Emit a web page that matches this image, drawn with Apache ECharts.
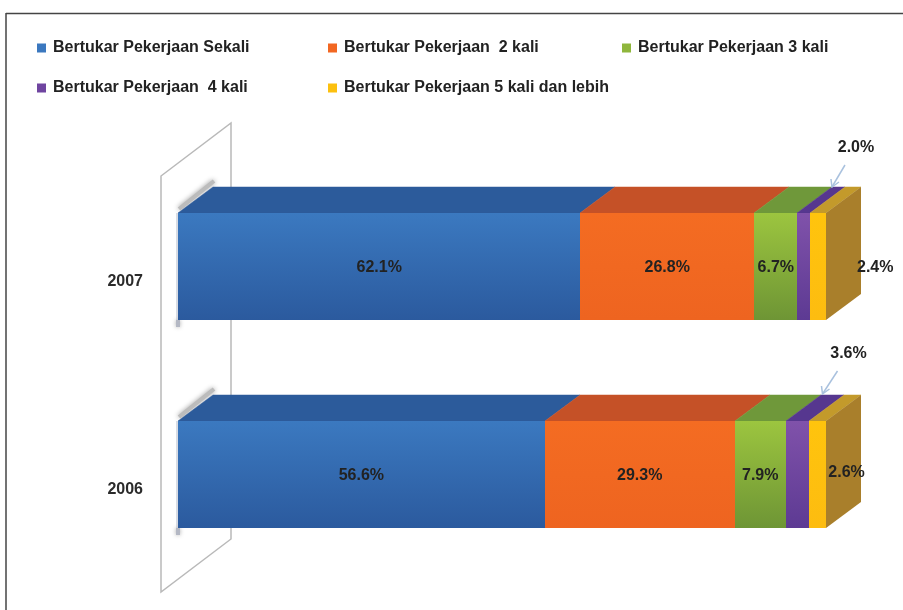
<!DOCTYPE html>
<html>
<head>
<meta charset="utf-8">
<style>html,body{margin:0;padding:0;background:#fff}#c{width:903px;height:610px}</style>
<script src="https://cdn.jsdelivr.net/npm/echarts@6/dist/echarts.min.js"></script>
</head>
<body>
<div id="c"></div>
<script>
// ---- data ----
const categories = ['2006', '2007'];
const seriesNames = ['Bertukar Pekerjaan Sekali', 'Bertukar Pekerjaan  2 kali', 'Bertukar Pekerjaan 3 kali', 'Bertukar Pekerjaan  4 kali', 'Bertukar Pekerjaan 5 kali dan lebih'];
const sekali = [56.6, 62.1];
const duaKali = [29.3, 26.8];
const tigaKali = [7.9, 6.7];
const empatKali = [3.6, 2.0];
const limaKali = [2.6, 2.4];
const allValues = [sekali, duaKali, tigaKali, empatKali, limaKali];

// ---- styles ----
const FONT = '"Liberation Sans", Arial, sans-serif';
const DX = 35, DY = -26;
function vg(a, b) { return { type: 'linear', x: 0, y: 0, x2: 0, y2: 1, colorStops: [{ offset: 0, color: a }, { offset: 1, color: b }] }; }
const styles = [
  { legend: '#3b78bf', front: vg('#3b79c0', '#2b5a9e'), top: '#2c5b9b' },
  { legend: '#f26722', front: vg('#f46c22', '#ee6420'), top: '#c55127' },
  { legend: '#8fb63c', front: vg('#9cc53f', '#6e9535'), top: '#6f983a' },
  { legend: '#6f45a0', front: vg('#8052aa', '#5d3a93'), top: '#56378f' },
  { legend: '#fcc00f', front: vg('#ffc40d', '#fdbc10'), top: '#c39a2b', side: '#a97f2b' }
];
const legendPos = [[32, 35], [323, 35], [617, 35], [32, 75], [323, 75]];
// label offset from the segment's centre, by [series][category]
const labelOffset = {
  4: { 0: [29, -2], 1: [57, 1] }
};
// labels above the bar with a leader: [text dx, text dy, leader start dx,dy, leader end dx,dy] from the segment's front top centre
const calloutOffset = {
  3: { 0: [51, -67, 40, -50, 25, -27], 1: [52, -65, 41, -48, 28, -26] }
};

function segData(i) {
  return categories.map((c, k) => {
    let start = 0;
    for (let j = 0; j < i; j++) start += allValues[j][k];
    return [k, start, start + allValues[i][k], allValues[i][k]];
  });
}

function renderSeg(i) {
  return function (params, api) {
    const k = api.value(0);
    const p0 = api.coord([api.value(1), k]);
    const p1 = api.coord([api.value(2), k]);
    const h = api.size([0, 1])[1] * 0.5144;
    const x0 = Math.round(p0[0]), x1 = Math.round(p1[0]), yT = p0[1] - h / 2, yB = p0[1] + h / 2, yC = p0[1];
    const st = styles[i];
    const kids = [];
    if (i === 0) {
      // soft shadow on the wall behind the bar
      kids.push({ type: 'polyline', shape: { points: [[x0 + 1, yT - 4], [x0 + DX + 1, yT + DY - 6]] },
        style: { stroke: '#bcbcbc', lineWidth: 4, fill: null, shadowBlur: 5, shadowColor: '#999' } });
      kids.push({ type: 'line', shape: { x1: x0 - 1, y1: yT, x2: x0 - 1, y2: yB },
        style: { stroke: '#d8dce4', lineWidth: 2 } });
      kids.push({ type: 'line', shape: { x1: x0, y1: yB, x2: x0, y2: yB + 7 },
        style: { stroke: '#b4b8c4', lineWidth: 4, shadowBlur: 4, shadowColor: '#aaa' } });
    }
    kids.push({ type: 'polygon', shape: { points: [[x0, yT], [x1, yT], [x1 + DX, yT + DY], [x0 + DX, yT + DY]] },
      style: { fill: st.top, stroke: st.top, lineWidth: 0.5 } });
    kids.push({ type: 'rect', shape: { x: x0, y: yT, width: x1 - x0, height: yB - yT }, style: { fill: st.front } });
    if (st.side) {
      kids.push({ type: 'polygon', shape: { points: [[x1, yT], [x1 + DX, yT + DY], [x1 + DX, yB + DY], [x1, yB]] }, style: { fill: st.side } });
    }
    const val = api.value(3).toFixed(1) + '%';
    const labelStyle = { text: val, font: 'bold 16px ' + FONT, fill: '#222', align: 'center', verticalAlign: 'middle' };
    const c = calloutOffset[i] && calloutOffset[i][k];
    const cx = (p0[0] + p1[0]) / 2;
    if (c) {
      const ex = cx + c[4], ey = yT + c[5], sx = cx + c[2], sy = yT + c[3];
      kids.push({ type: 'line', shape: { x1: sx, y1: sy, x2: ex, y2: ey }, style: { stroke: '#a9c1de', lineWidth: 1.5 } });
      kids.push({ type: 'polyline', shape: { points: [[ex - 1, ey - 8], [ex, ey], [ex + 7, ey - 5]] }, style: { stroke: '#a9c1de', lineWidth: 1.5, fill: null } });
      kids.push({ type: 'text', style: Object.assign({ x: cx + c[0], y: yT + c[1] }, labelStyle) });
    } else {
      const o = (labelOffset[i] && labelOffset[i][k]) || [0, 1];
      kids.push({ type: 'text', z2: 100, style: Object.assign({ x: cx + o[0], y: yC + o[1] }, labelStyle) });
    }
    return { type: 'group', children: kids };
  };
}

function renderWall(params) {
  const cs = params.coordSys;
  const x = cs.x - 17, w = 70, dy = -53, t = cs.y + 13.5, b = cs.y + cs.height + 13.5;
  return { type: 'polygon', shape: { points: [[x, t], [x + w, t + dy], [x + w, b + dy], [x, b]] },
    style: { fill: '#fff', stroke: '#b9b9b9', lineWidth: 1.5 } };
}

const series = [{
  type: 'custom', name: 'wall', silent: true, data: [[0]], renderItem: renderWall, z: 1, encode: { x: 0 }
}].concat(seriesNames.map((n, i) => ({
  type: 'custom', name: n, silent: true, z: 2 + i,
  itemStyle: { color: styles[i].legend },
  data: segData(i), encode: { x: [1, 2], y: 0 },
  renderItem: renderSeg(i)
})));

const legends = seriesNames.map((n, i) => ({
  data: [n], left: legendPos[i][0], top: legendPos[i][1], icon: 'rect', itemWidth: 9, itemHeight: 9, itemGap: 7,
  selectedMode: false, textStyle: { fontFamily: FONT, fontWeight: 'bold', fontSize: 16, color: '#222', padding: [0, 0, 0, 2] }
}));

const chart = echarts.init(document.getElementById('c'), null, { renderer: 'canvas' });
chart.setOption({
  animation: false,
  backgroundColor: '#fff',
  legend: legends,
  grid: { left: 178, width: 648, top: 162.5, height: 416 },
  xAxis: { type: 'value', min: 0, max: 100, show: false },
  yAxis: {
    type: 'category', data: categories,
    axisLine: { show: false }, axisTick: { show: false }, splitLine: { show: false },
    axisLabel: { margin: 35, color: '#2b2b2b', fontFamily: FONT, fontWeight: 'bold', fontSize: 16, verticalAlign: 'top', lineHeight: 30 }
  },
  graphic: [
    { type: 'line', silent: true, z: 0, shape: { x1: 6, y1: 13.5, x2: 903, y2: 13.5 }, style: { stroke: '#444', lineWidth: 1.5 } },
    { type: 'line', silent: true, z: 0, shape: { x1: 6, y1: 13, x2: 6, y2: 610 }, style: { stroke: '#444', lineWidth: 1.5 } }
  ],
  series: series
});
</script>
</body>
</html>
